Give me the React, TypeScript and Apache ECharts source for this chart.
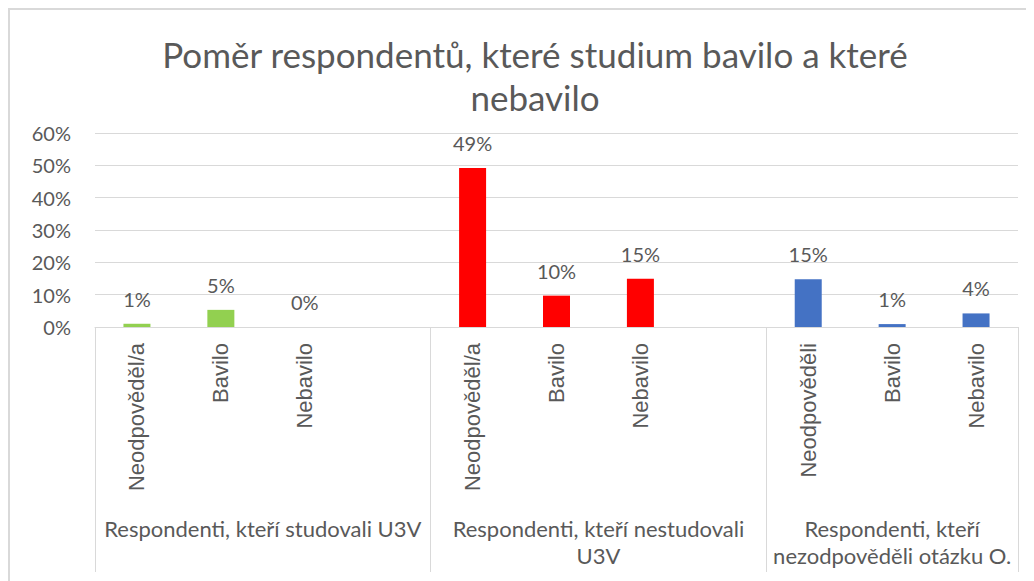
import React, { useEffect, useRef } from "react";
import * as echarts from "echarts";

const titleText = "Poměr respondentů, které studium bavilo a které\nnebavilo";
const categories = [
  "Neodpověděl/a", "Bavilo", "Nebavilo", "",
  "Neodpověděl/a", "Bavilo", "Nebavilo", "",
  "Neodpověděli", "Bavilo", "Nebavilo",
];
const values: (number | null)[] = [
  0.01, 0.053, 0.0, null,
  0.492, 0.097, 0.149, null,
  0.148, 0.009, 0.042,
];
const groupNames = [
  "Respondenti, kteří studovali U3V",
  "Respondenti, kteří nestudovali\nU3V",
  "Respondenti, kteří\nnezodpověděli otázku O.",
];
const groupSizes = [4, 4, 3];
const groupColors = ["#92D050", "#FF0000", "#4472C4"];
const yTicks = [0, 0.1, 0.2, 0.3, 0.4, 0.5, 0.6];

const TEXT = "#595959";
const GRID = "#D9D9D9";

export default function App() {
  const ref = useRef<HTMLDivElement>(null);
  useEffect(() => {
    if (!ref.current) return;
    const chart = echarts.init(ref.current, undefined, { renderer: "svg" });

    const groupOf: number[] = [];
    groupSizes.forEach((s, g) => {
      for (let k = 0; k < s; k++) groupOf.push(g);
    });
    const total = groupSizes.reduce((a, b) => a + b, 0);
    const halfData: string[] = [];
    for (let k = 0; k <= total * 2; k++) halfData.push("");
    const tickIdx: number[] = [0];
    let start = 0;
    groupSizes.forEach((s, g) => {
      const end = start + s;
      halfData[start + end] = groupNames[g];
      tickIdx.push(end * 2);
      start = end;
    });

    const data = values.map((v, i) => ({
      value: v === null ? "-" : v,
      itemStyle: { color: groupColors[groupOf[i]] },
    }));

    chart.setOption({
      animation: false,
      title: {
        text: titleText,
        left: 522,
        top: 19,
        textAlign: "center",
        textStyle: {
          fontFamily: "Lato",
          fontSize: 35,
          fontWeight: "normal",
          color: TEXT,
          lineHeight: 43,
        },
      },
      graphic: [
        {
          type: "rect",
          shape: { x: 1, y: 1, width: 3000, height: 3000 },
          style: { fill: "none", stroke: GRID, lineWidth: 2 },
          silent: true,
        },
      ],
      grid: { left: 87, right: 16, top: 125, bottom: 254 },
      xAxis: [
        {
          type: "category",
          data: categories,
          axisLine: { lineStyle: { color: GRID, width: 1 } },
          axisTick: { show: false },
          axisLabel: {
            interval: 0,
            rotate: 90,
            margin: 16,
            color: TEXT,
            fontFamily: "Liberation Sans",
            fontSize: 22,
          },
        },
        {
          type: "category",
          data: halfData,
          boundaryGap: false,
          position: "bottom",
          axisLine: { show: false },
          axisTick: {
            show: true,
            length: 245,
            interval: (idx: number) => tickIdx.indexOf(idx) >= 0,
            lineStyle: { color: GRID, width: 1 },
          },
          axisLabel: {
            interval: (idx: number, val: string) => val !== "",
            margin: 188,
            color: TEXT,
            fontFamily: "Lato",
            fontSize: 22,
            lineHeight: 27,
          },
        },
      ],
      yAxis: {
        type: "value",
        min: 0,
        max: yTicks[yTicks.length - 1],
        interval: 0.1,
        axisLine: { show: false },
        axisTick: { show: false },
        splitLine: { lineStyle: { color: GRID, width: 1 } },
        axisLabel: {
          margin: 24,
          color: TEXT,
          fontFamily: "Lato",
          fontSize: 20,
          formatter: (v: number) => Math.round(v * 100) + "%",
        },
      },
      series: [
        {
          type: "bar",
          xAxisIndex: 0,
          data,
          barWidth: 27,
          label: {
            show: true,
            position: "top",
            distance: 15,
            color: TEXT,
            fontFamily: "Lato",
            fontSize: 20,
            formatter: (p: any) => Math.round(p.value * 100) + "%",
          },
        },
      ],
    });
    return () => chart.dispose();
  }, []);
  return <div ref={ref} style={{ width: 1026, height: 573 }} />;
}
